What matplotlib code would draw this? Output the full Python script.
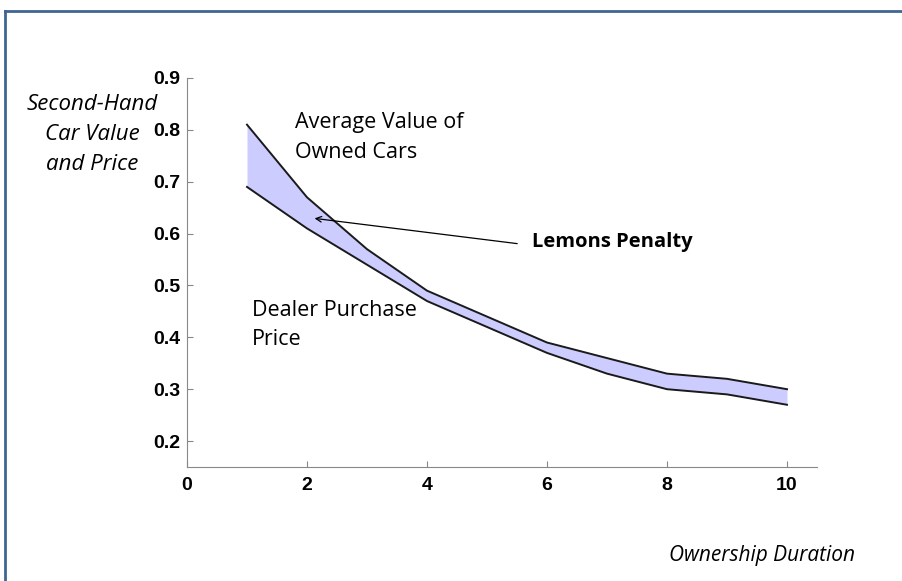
import matplotlib.pyplot as plt
from matplotlib.lines import Line2D

# ownership duration and the two curves
duration = [1, 2, 3, 4, 5, 6, 7, 8, 9, 10]
avg_value = [0.81, 0.67, 0.57, 0.49, 0.44, 0.39, 0.36, 0.33, 0.32, 0.30]
dealer_price = [0.69, 0.61, 0.54, 0.47, 0.42, 0.37, 0.33, 0.30, 0.29, 0.27]
xticks = [0, 2, 4, 6, 8, 10]
yticks = [0.2, 0.3, 0.4, 0.5, 0.6, 0.7, 0.8, 0.9]
ylabel_lines = ['Second-Hand', 'Car Value', 'and Price']

label_font = 'Open Sans'
tick_font = 'Liberation Sans'

fig = plt.figure(figsize=(9.02, 5.81), dpi=100)
ax = fig.add_axes([187 / 902, 1 - 467 / 581, 630 / 902, 389 / 581])

ax.fill_between(duration, dealer_price, avg_value, color='#ccccff', lw=0)
ax.plot(duration, avg_value, color='#1a1a1a', lw=1.4)
ax.plot(duration, dealer_price, color='#1a1a1a', lw=1.4)

ax.set_xlim(0, 10.5)
ax.set_ylim(0.15, 0.9)
ax.set_xticks(xticks)
ax.set_yticks(yticks)
ax.set_xticklabels([str(t) for t in xticks], fontfamily=tick_font, fontweight='bold', fontsize=14)
ax.set_yticklabels(['%.1f' % t for t in yticks], fontfamily=tick_font, fontweight='bold', fontsize=14)
ax.tick_params(direction='in', length=4, color='#888888', pad=5)
ax.tick_params(axis='x', pad=7)
for s in ['top', 'right']:
    ax.spines[s].set_visible(False)
for s in ['left', 'bottom']:
    ax.spines[s].set_color('#888888')

ax.text(1.8, 0.785, 'Average Value of\nOwned Cars', fontfamily=label_font, fontsize=15.5,
        va='center', ha='left', linespacing=1.55)
ax.text(1.08, 0.424, 'Dealer Purchase\nPrice', fontfamily=label_font, fontsize=15.5,
        va='center', ha='left', linespacing=1.5)
ax.text(5.75, 0.583, 'Lemons Penalty', fontfamily=label_font, fontsize=14.5,
        fontweight='bold', va='center', ha='left')
ax.annotate('', xy=(2.08, 0.630), xytext=(5.55, 0.58),
            arrowprops=dict(arrowstyle='->', color='black', lw=0.9))

# y label drawn line by line so it sits between the tick labels
for i, line in enumerate(ylabel_lines):
    fig.text(92 / 902, 1 - (105 + 30 * i) / 581, line, fontfamily=label_font,
             fontsize=16, style='italic', ha='center', va='center')
fig.text(855 / 902, 1 - 555 / 581, 'Ownership Duration', fontfamily=label_font,
         fontsize=15, style='italic', ha='right', va='center')

# slide frame (top and left edges)
frame_color = '#3f6593'
fig.add_artist(Line2D([5 / 902, 1], [1 - 10.5 / 581, 1 - 10.5 / 581], color=frame_color, lw=2,
                      transform=fig.transFigure))
fig.add_artist(Line2D([5 / 902, 5 / 902], [0, 1 - 10.5 / 581], color=frame_color, lw=2,
                      transform=fig.transFigure))

fig.savefig('out.png', dpi=100)
